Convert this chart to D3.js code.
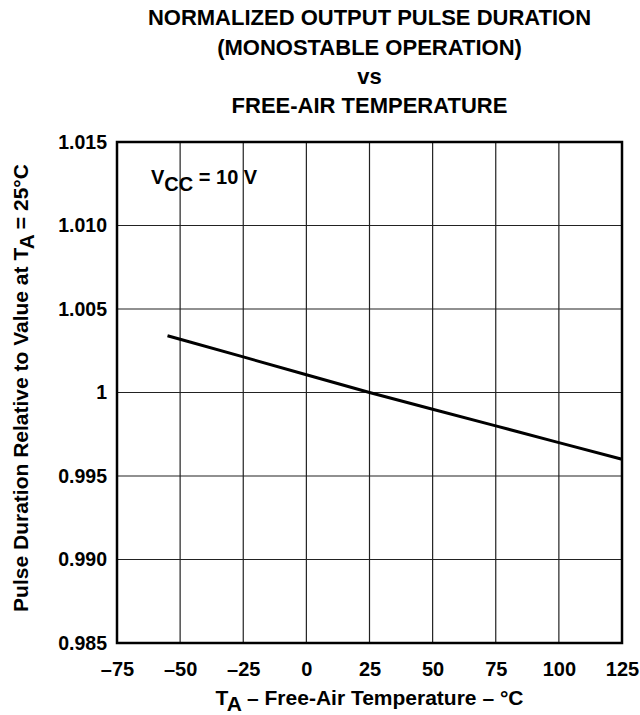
<!DOCTYPE html>
<html>
<head>
<meta charset="utf-8">
<script src="https://cdn.jsdelivr.net/npm/d3@7"></script>
<style>
	body { margin: 0; background: #fff; }
	svg text { font-family: 'Liberation Sans', Arial, sans-serif; font-weight: bold; fill: #000; }
</style>
</head>
<body>
<div id="chart"></div>
<script>
// chart data
const temps = [-55, -50, -25, 0, 25, 50, 75, 100, 125]
const values = [1.0034, 1.00319, 1.00213, 1.00106, 1.0, 0.999, 0.998, 0.997, 0.996]
const xTicks = [-75, -50, -25, 0, 25, 50, 75, 100, 125]
const yTicks = [0.985, 0.990, 0.995, 1.000, 1.005, 1.010, 1.015]
const yTickLabels = ['0.985', '0.990', '0.995', '1', '1.005', '1.010', '1.015']
const titleLines = ['NORMALIZED OUTPUT PULSE DURATION', '(MONOSTABLE OPERATION)', 'vs', 'FREE-AIR TEMPERATURE']

let width = 640
let height = 715
let margin = { top: 142, right: 18, bottom: 72, left: 117 }

const svg = d3.select('#chart').append('svg')
	.attr('width', width)
	.attr('height', height)

const x = d3.scaleLinear()
	.domain([-75, 125])
	.range([margin.left, width - margin.right])

const y = d3.scaleLinear()
	.domain([0.985, 1.015])
	.range([height - margin.bottom, margin.top])

// grid
svg.append('g')
	.selectAll('line')
	.data(xTicks.slice(1, -1))
	.enter().append('line')
	.attr('x1', d => x(d)).attr('x2', d => x(d))
	.attr('y1', y(0.985)).attr('y2', y(1.015))
	.attr('stroke', '#222').attr('stroke-width', 1.2)

svg.append('g')
	.selectAll('line')
	.data(yTicks.slice(1, -1))
	.enter().append('line')
	.attr('x1', x(-75)).attr('x2', x(125))
	.attr('y1', d => y(d)).attr('y2', d => y(d))
	.attr('stroke', '#222').attr('stroke-width', 1.2)

// frame
svg.append('rect')
	.attr('x', x(-75)).attr('y', y(1.015))
	.attr('width', x(125) - x(-75))
	.attr('height', y(0.985) - y(1.015))
	.attr('fill', 'none')
	.attr('stroke', '#000')
	.attr('stroke-width', 2.5)

// axes (labels only)
const xAxis = d3.axisBottom(x).tickValues(xTicks).tickSize(0).tickPadding(19)
	.tickFormat(d => d < 0 ? '\u2013' + Math.abs(d) : d)
svg.append('g')
	.attr('transform', `translate(0,${y(0.985)})`)
	.call(xAxis)
	.call(g => g.select('.domain').remove())
	.selectAll('text').style('font-size', '20px').attr('fill', '#000')

const yAxis = d3.axisLeft(y).tickValues(yTicks).tickSize(0).tickPadding(10)
	.tickFormat((d, i) => yTickLabels[i])
svg.append('g')
	.attr('transform', `translate(${x(-75)},0)`)
	.call(yAxis)
	.call(g => g.select('.domain').remove())
	.selectAll('text').style('font-size', '19.5px').attr('fill', '#000')

// curve
const line = d3.line()
	.x((d, i) => x(temps[i]))
	.y(d => y(d))

svg.append('path')
	.datum(values)
	.attr('d', line)
	.attr('fill', 'none')
	.attr('stroke', '#000')
	.attr('stroke-width', 3)

// title
const title = svg.append('text')
	.attr('text-anchor', 'middle')
	.style('font-size', '22px')
titleLines.forEach((t, i) => {
	title.append('tspan')
		.attr('x', (x(-75) + x(125)) / 2)
		.attr('y', [25, 55, 84, 113][i])
		.text(t)
})

// Vcc label
const vcc = svg.append('text')
	.attr('x', 151)
	.attr('y', 184)
	.style('font-size', '20px')
vcc.append('tspan').text('V')
vcc.append('tspan').attr('dy', 7).text('CC')
vcc.append('tspan').attr('dy', -7).text(' = 10 V')

// x axis title
const xt = svg.append('text')
	.attr('x', (x(-75) + x(125)) / 2)
	.attr('y', 705)
	.attr('text-anchor', 'middle')
	.style('font-size', '21px')
xt.append('tspan').text('T')
xt.append('tspan').attr('dy', 6).text('A')
xt.append('tspan').attr('dy', -6).text(' \u2013 Free-Air Temperature \u2013 \u00B0C')

// y axis title
const yt = svg.append('text')
	.attr('transform', `translate(28,388) rotate(-90)`)
	.attr('text-anchor', 'middle')
	.style('font-size', '21px')
yt.append('tspan').text('Pulse Duration Relative to Value at T')
yt.append('tspan').attr('dy', 6).text('A')
yt.append('tspan').attr('dy', -6).text(' = 25\u00B0C')
</script>
</body>
</html>
